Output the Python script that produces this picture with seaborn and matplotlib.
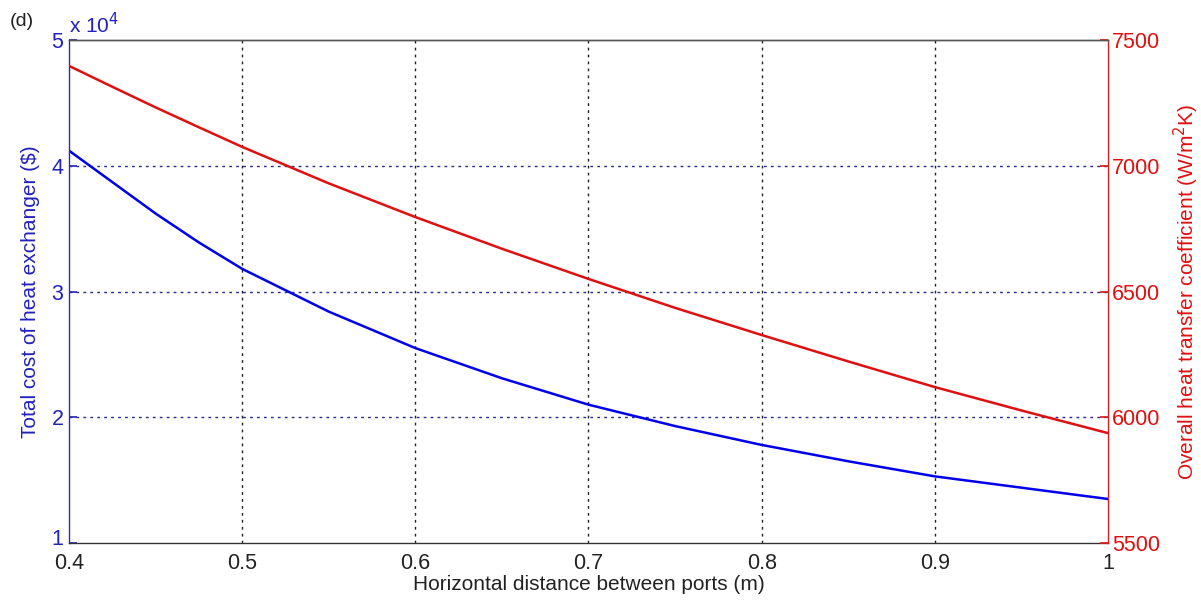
import matplotlib
matplotlib.use("Agg")
import matplotlib.pyplot as plt
import matplotlib.transforms as mtransforms
import seaborn as sns
import pandas as pd
from matplotlib.ticker import FuncFormatter, MultipleLocator

# Data
distance = [0.40, 0.425, 0.45, 0.475, 0.50, 0.55, 0.60, 0.65, 0.70, 0.75, 0.80, 0.85, 0.90, 0.95, 1.00]
total_cost = [41200, 38700, 36200, 33900, 31800, 28400, 25500, 23100, 21000, 19300, 17800, 16500, 15300, 14400, 13500]
heat_coeff = [7397, 7314, 7232, 7153, 7075, 6930, 6796, 6670, 6550, 6435, 6327, 6222, 6120, 6027, 5937]

x_ticks = [0.4, 0.5, 0.6, 0.7, 0.8, 0.9, 1.0]
x_tick_labels = ["0.4", "0.5", "0.6", "0.7", "0.8", "0.9", "1"]

df = pd.DataFrame({"distance": distance, "cost": total_cost, "U": heat_coeff})

sns.set_theme(style="white")
plt.rcParams["font.family"] = ["Liberation Sans", "DejaVu Sans"]

BLUE = "#0000ee"
BLUE_AX = "#2b2bb0"
RED = "#e01010"
RED_AX = "#d42020"

fig = plt.figure(figsize=(12.01, 6.0), dpi=100)
ax = fig.add_axes([0.0575, 0.095, 0.865, 0.8383])
ax2 = ax.twinx()

sns.lineplot(data=df, x="distance", y="cost", ax=ax, color=BLUE, linewidth=1.8)
sns.lineplot(data=df, x="distance", y="U", ax=ax2, color=RED, linewidth=1.8)

ax.set_xlim(0.4, 1.0)
ax.set_ylim(10000, 50000)
ax2.set_ylim(5500, 7500)

ax.set_xticks(x_ticks)
ax.set_xticklabels(x_tick_labels)
ax.yaxis.set_major_locator(MultipleLocator(10000))
ax.yaxis.set_major_formatter(FuncFormatter(lambda v, p: f"{v/1e4:g}"))
ax2.yaxis.set_major_locator(MultipleLocator(500))

# grids
for xv in x_ticks[1:-1]:
    ax.axvline(xv, color="#222222", linestyle=(0, (2, 3)), linewidth=1.0, zorder=0)
for yv in [20000, 30000, 40000]:
    ax.axhline(yv, color="#2a2a8a", linestyle=(0, (2, 3)), linewidth=1.0, zorder=0)

ax.tick_params(axis="x", direction="in", length=6, labelsize=15.5, colors="#222222", pad=7, top=False)
ax.tick_params(axis="y", direction="in", length=6, labelsize=15.5, labelcolor="#2222bb", color=BLUE_AX, pad=4)
ax2.tick_params(axis="y", direction="in", length=6, labelsize=15.5, labelcolor=RED, color=RED_AX, pad=3)

ax.spines["left"].set_color(BLUE_AX)
ax.spines["bottom"].set_color("#333333")
ax.spines["top"].set_color("#555555")
ax2.spines["right"].set_color(RED_AX)
ax2.spines["left"].set_visible(False)
ax2.spines["top"].set_color("#555555")
ax2.spines["bottom"].set_visible(False)
for sp in list(ax.spines.values()) + list(ax2.spines.values()):
    sp.set_linewidth(1.0)
ax.spines["right"].set_visible(False)

ax.set_xlabel("Horizontal distance between ports (m)", fontsize=15, color="#222222", labelpad=1)
ax.set_ylabel("Total cost of heat exchanger ($)", fontsize=15, color="#2222bb", labelpad=8)
ax2.set_ylabel("Overall heat transfer coefficient (W/m$^2$K)", fontsize=15, color=RED, labelpad=8)

ax.text(0.0, 1.005, r"x 10$^4$", transform=ax.transAxes, fontsize=15, color="#2222bb",
        ha="left", va="bottom")
fig.text(0.008, 0.965, "(d)", fontsize=14, color="#222222", ha="left", va="center")

# nudge the lowest left tick label up slightly so it does not collide with "0.4"
fig.canvas.draw()
shift = mtransforms.ScaledTranslation(0, 4 / 72, fig.dpi_scale_trans)
for lbl in ax.get_yticklabels():
    if lbl.get_text() == "1":
        lbl.set_transform(lbl.get_transform() + shift)

fig.savefig("out.png", dpi=100)
